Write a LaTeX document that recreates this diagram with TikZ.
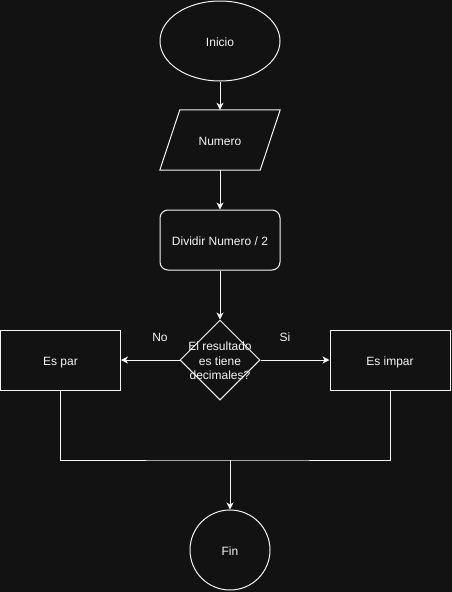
\documentclass[tikz,border=0pt]{standalone}
\usepackage{fontspec}
\setmainfont{Liberation Sans}
\usetikzlibrary{shapes.geometric,arrows.meta}
\definecolor{bg}{HTML}{121212}
\definecolor{fg}{HTML}{F4F4F4}
\begin{document}
\begin{tikzpicture}[x=1pt,y=-1pt,
  every node/.style={text=fg,font=\fontsize{12}{14.5}\selectfont},
  oneline/.style={text height=11pt,text depth=0pt},
  shapebox/.style={draw=fg,line width=1pt,fill=bg,inner sep=0pt,oneline},
  plainbox/.style={shapebox,rectangle,minimum width=120pt,minimum height=60pt},
  roundbox/.style={plainbox,rounded corners=8pt},
  flow/.style={draw=fg,line width=1pt,-{Stealth[length=7pt,width=7pt,inset=2pt]}},
  link/.style={draw=fg,line width=1pt}]
\fill[bg] (0,0) rectangle (452,592);
\useasboundingbox (0,0) rectangle (452,592);

\node[shapebox,ellipse,minimum width=120pt,minimum height=80pt] (inicio) at (220,41) {Inicio};
\node[rectangle,minimum width=120pt,minimum height=60pt,inner sep=0pt] (numero) at (220,140) {};
\draw[link,fill=bg] ([xshift=20pt]numero.north west) -- (numero.north east)
   -- ([xshift=-20pt]numero.south east) -- (numero.south west) -- cycle;
\node[oneline] at (numero.center) {Numero};
\node[roundbox] (dividir) at (220,240) {Dividir Numero / 2};
\node[draw=fg,line width=1pt,fill=bg,inner sep=0pt,diamond,minimum width=80pt,minimum height=80pt,aspect=1,
  label={[align=center,text=fg,yshift=-1pt]center:El resultado\\es tiene\\decimales?}] (decision) at (220,360) {};
\node[plainbox] (espar) at (60.5,360) {Es par};
\node[plainbox] (esimpar) at (390,360) {Es impar};
\node[shapebox,circle,minimum size=80pt] (fin) at (230,550) {Fin};
\coordinate (merge) at (230,460);

\draw[flow] (inicio.south) -- (numero.north);
\draw[flow] (numero.south) -- (dividir.north);
\draw[flow] (dividir.south) -- (decision.north);
\draw[flow] (decision.west) -- (espar.east);
\draw[flow] (decision.east) -- (esimpar.west);
\node[oneline] (nolabel) at (160,336) {No};
\node[oneline] (silabel) at (285,336) {Si};
\draw[link] (espar.south) |- (merge) -| (esimpar.south);
\draw[flow] (merge) -- (fin.north);
\end{tikzpicture}
\end{document}
